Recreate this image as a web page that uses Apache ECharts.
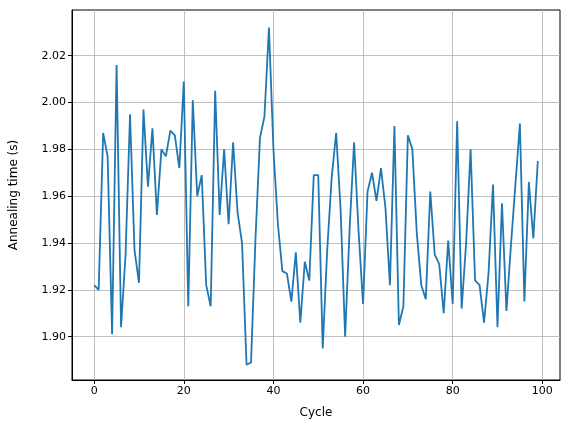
<!DOCTYPE html><html><head><meta charset="utf-8"><script src="https://cdn.jsdelivr.net/npm/echarts@6/dist/echarts.min.js"></script>
<style>html,body{margin:0;padding:0;background:#fff}#c{width:576px;height:432px}</style></head><body><div id="c"></div><script>
const values=[1.922,1.920,1.987,1.977,1.901,2.016,1.904,1.935,1.995,1.937,1.923,1.997,1.964,1.989,1.952,1.980,1.977,1.988,1.986,1.972,2.009,1.913,2.001,1.960,1.969,1.922,1.913,2.005,1.952,1.980,1.948,1.983,1.953,1.940,1.888,1.889,1.942,1.985,1.994,2.032,1.980,1.948,1.928,1.927,1.915,1.936,1.906,1.932,1.924,1.969,1.969,1.895,1.937,1.968,1.987,1.954,1.900,1.946,1.983,1.945,1.914,1.962,1.970,1.958,1.972,1.955,1.922,1.990,1.905,1.913,1.986,1.980,1.944,1.922,1.916,1.962,1.935,1.931,1.910,1.941,1.914,1.992,1.912,1.940,1.980,1.924,1.922,1.906,1.927,1.965,1.904,1.957,1.911,1.939,1.965,1.991,1.915,1.966,1.942,1.975];
const xTicks=[0,20,40,60,80,100];
const yTicks=[1.90,1.92,1.94,1.96,1.98,2.00,2.02];
const data=values.map((v,i)=>[i,v]);
const font='DejaVu Sans';
const c=echarts.init(document.getElementById('c'),null,{renderer:'canvas'});
c.setOption({animation:false,
grid:{left:72,right:16,top:10,bottom:52,show:true,borderColor:'#000',borderWidth:1,backgroundColor:'transparent'},
xAxis:{type:'value',min:-4.95,max:103.95,name:'Cycle',nameLocation:'middle',nameGap:27,nameTextStyle:{fontFamily:font,fontSize:12,color:'#000'},
 axisLine:{onZero:false,lineStyle:{color:'#000'}},axisTick:{show:true,customValues:xTicks,length:4,lineStyle:{color:'#000'}},
 axisLabel:{customValues:xTicks,fontFamily:font,fontSize:11,color:'#000',margin:6},
 splitLine:{show:true,lineStyle:{color:'#b0b0b0',width:0.8}}},
yAxis:{type:'value',min:1.8815,max:2.0395,name:'Annealing time (s)',nameLocation:'middle',nameGap:52,nameTextStyle:{fontFamily:font,fontSize:12,color:'#000'},
 axisLine:{show:true,onZero:false,lineStyle:{color:'#000'}},axisTick:{show:true,customValues:yTicks,length:4,lineStyle:{color:'#000'}},
 axisLabel:{customValues:yTicks,formatter:v=>v.toFixed(2),fontFamily:font,fontSize:11,color:'#000',margin:6},
 splitLine:{show:true,lineStyle:{color:'#b0b0b0',width:0.8}}},
series:[{type:'line',data:data,showSymbol:false,lineStyle:{color:'#1f77b4',width:1.8}}]
});
</script></body></html>
